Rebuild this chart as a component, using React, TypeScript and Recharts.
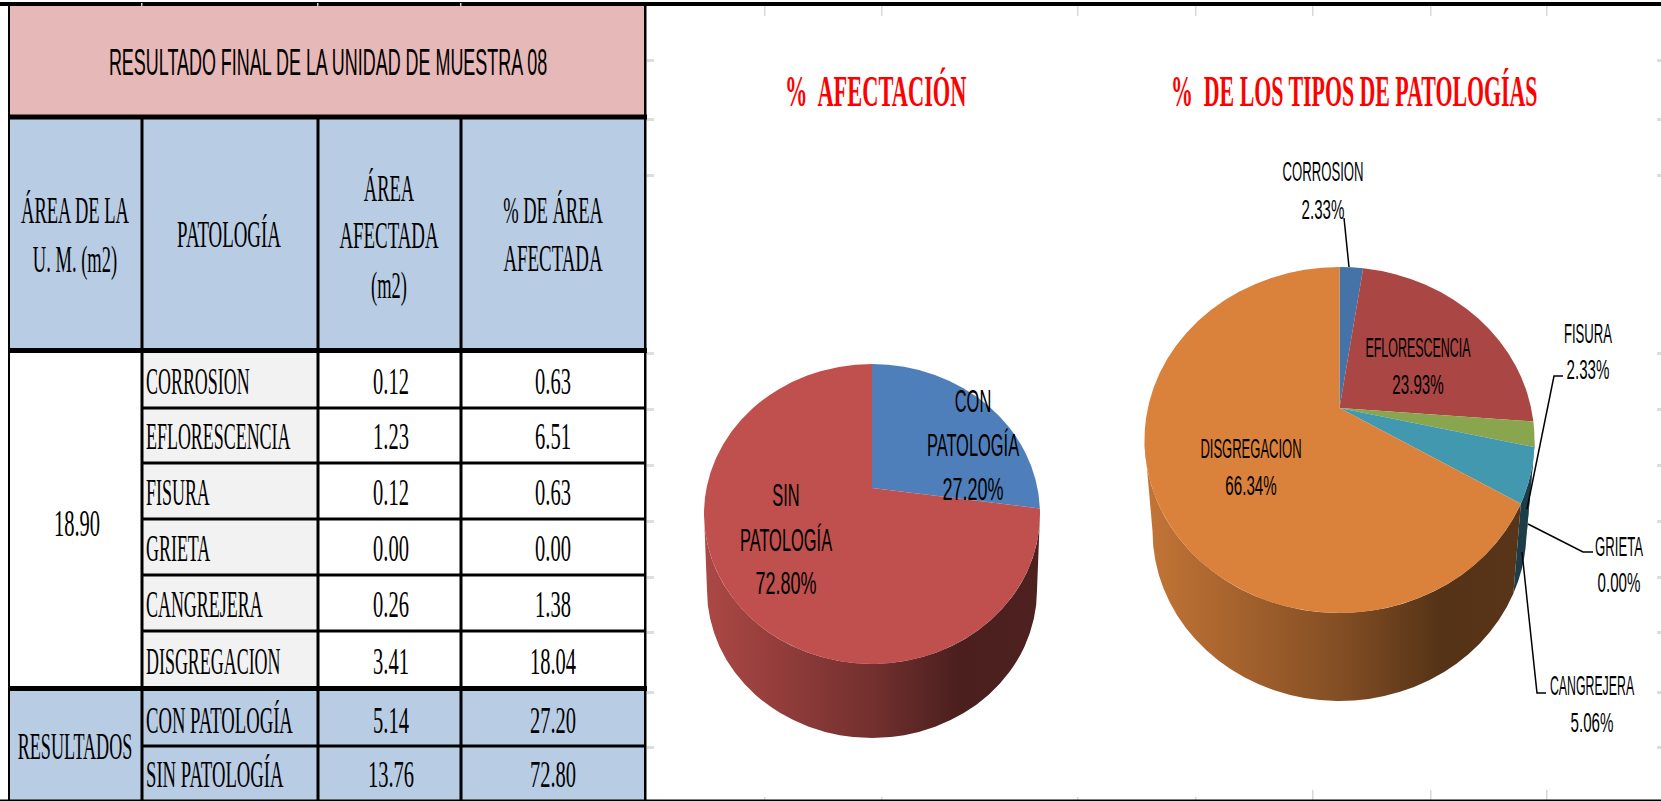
import { PieChart, Pie } from "recharts";

// values (m2)
const tipoNames = ["CORROSION", "EFLORESCENCIA", "FISURA", "GRIETA", "CANGREJERA", "DISGREGACION"];
const tipoAreas = [0.12, 1.23, 0.12, 0.0, 0.26, 3.41];
const tipoPercents = ["0.63", "6.51", "0.63", "0.00", "1.38", "18.04"];
const tipoColors = ["#4572A7", "#AA4643", "#89A54E", "#71588F", "#4198AF", "#DA823C"];

const resumenNames = ["CON PATOLOGÍA", "SIN PATOLOGÍA"];
const resumenAreas = [5.14, 13.76];
const resumenPercents = ["27.20", "72.80"];
const resumenColors = ["#4F7FBA", "#BF504D"];

const tipoData = tipoNames.map((name, i) => ({ name, value: tipoAreas[i], fill: tipoColors[i] }));
const resumenData = resumenNames.map((name, i) => ({ name, value: resumenAreas[i], fill: resumenColors[i] }));

const SERIF = "'Liberation Serif', 'Times New Roman', serif";
const SANS = "'Liberation Sans', Arial, sans-serif";

// table layout
const colEdges = [9, 142, 318, 461, 645];
const rowEdges = [353, 408, 463, 519, 575, 631, 688, 746, 800];
const sideTicks = [59, 118, 174, 352, 408, 464, 520, 576, 631, 691, 746];
const topTicks = [764, 881, 1077, 1195, 1312, 1430, 1546];

// tilted pie geometry, vertex of the slices is not the middle of the ellipse
const resumenTilt = { id: "res", cyTop: 514, ry: 150, rxBottom: 165, ryBottom: 148, cyBottom: 590 };
const tipoTilt = { id: "tip", cyTop: 440, ry: 173, rxBottom: 187, ryBottom: 170, cyBottom: 531 };

// where the data labels sit
const resumenLabels = [
  { x: 973, ys: [412, 456, 500], sx: 0.53, pctSx: 0.58, size: 31 },
  { x: 786, ys: [506, 551, 594], sx: 0.53, pctSx: 0.58, size: 31 },
];
const tipoLabels = [
  { x: 1323, ys: [181, 219], sx: 0.47, pctSx: 0.54, size: 28, line: "1344,218 1349,267" },
  { x: 1418, ys: [357, 394], sx: 0.445, pctSx: 0.54, size: 28 },
  { x: 1588, ys: [343, 379], sx: 0.47, pctSx: 0.54, size: 28, line: "1563,376 1554,376 1527,509" },
  { x: 1619, ys: [556, 592], sx: 0.47, pctSx: 0.54, size: 28, line: "1593,552 1583,552 1528,524" },
  { x: 1592, ys: [695, 732], sx: 0.44, pctSx: 0.54, size: 28, line: "1546,693 1537,693 1522,552" },
  { x: 1251, ys: [458, 495], sx: 0.465, pctSx: 0.54, size: 28 },
];

const shade = (hex: string, f: number) => {
  const n = parseInt(hex.slice(1), 16);
  const c = [(n >> 16) & 255, (n >> 8) & 255, n & 255].map((v) => Math.round(v * f));
  return `rgb(${c[0]},${c[1]},${c[2]})`;
};

// recharts angle (deg) -> angle on the ellipse, clockwise from the top (rad)
const toEllipseAngle = (deg: number, k: number) => {
  const clockwise = Math.min(360, Math.max(0, 90 - deg));
  const half = (clockwise * Math.PI) / 360;
  return 2 * Math.atan2(k * Math.sin(half), Math.cos(half));
};

const kFor = (cy: number, tilt: any) => {
  const e = (tilt.cyTop - cy) / tilt.ry;
  return Math.sqrt((1 - e) / (1 + e));
};

const topShape = (tilt: any) => (props: any) => {
  const { cx, cy, outerRadius: rx, startAngle, endAngle, fill } = props;
  const k = kFor(cy, tilt);
  const a = toEllipseAngle(startAngle, k);
  const b = toEllipseAngle(endAngle, k);
  const px = (t: number) => cx + rx * Math.sin(t);
  const py = (t: number) => tilt.cyTop - tilt.ry * Math.cos(t);
  const large = b - a > Math.PI ? 1 : 0;
  return (
    <path
      d={`M${cx},${cy} L${px(a)},${py(a)} A${rx},${tilt.ry} 0 ${large} 1 ${px(b)},${py(b)} Z`}
      fill={fill}
    />
  );
};

const wallShape = (tilt: any) => (props: any) => {
  const { cx, cy, outerRadius: rx, startAngle, endAngle, fill, index } = props;
  const k = kFor(cy, tilt);
  const a = Math.max(toEllipseAngle(startAngle, k), Math.PI / 2);
  const b = Math.min(toEllipseAngle(endAngle, k), (3 * Math.PI) / 2);
  if (b <= a) return <g />;
  const id = `wall-${tilt.id}-${index}`;
  const large = b - a > Math.PI ? 1 : 0;
  const tx = (t: number) => cx + rx * Math.sin(t);
  const ty = (t: number) => tilt.cyTop - tilt.ry * Math.cos(t);
  const bx = (t: number) => cx + tilt.rxBottom * Math.sin(t);
  const by = (t: number) => tilt.cyBottom - tilt.ryBottom * Math.cos(t);
  return (
    <g>
      <defs>
        <linearGradient id={id} gradientUnits="userSpaceOnUse" x1={cx - rx} x2={cx + rx} y1={0} y2={0}>
          <stop offset="0" stopColor={shade(fill, 0.9)} />
          <stop offset="0.5" stopColor={shade(fill, 0.6)} />
          <stop offset="0.76" stopColor={shade(fill, 0.39)} />
          <stop offset="1" stopColor={shade(fill, 0.41)} />
        </linearGradient>
      </defs>
      <path
        d={`M${tx(a)},${ty(a)} A${rx},${tilt.ry} 0 ${large} 1 ${tx(b)},${ty(b)} L${bx(b)},${by(b)} A${tilt.rxBottom},${tilt.ryBottom} 0 ${large} 0 ${bx(a)},${by(a)} Z`}
        fill={`url(#${id})`}
      />
    </g>
  );
};

const Squeezed = ({ x, y, size, sx, anchor = "middle", font = SERIF, fill = "#000", weight, children }: any) => (
  <text
    transform={`translate(${x} ${y}) scale(${sx} 1)`}
    textAnchor={anchor}
    fontFamily={font}
    fontSize={size}
    fontWeight={weight}
    fill={fill}
    style={{ whiteSpace: "pre" }}
  >
    {children}
  </text>
);

const pieLabel = (layout: any[], splitName: boolean) => (props: any) => {
  const { index, name, percent } = props;
  const spot = layout[index];
  const nameLines = splitName ? name.split(" ") : [name];
  const pct = `${(percent * 100).toFixed(2)}%`;
  return (
    <g>
      {spot.line && <polyline points={spot.line} fill="none" stroke="#000" strokeWidth={1.5} />}
      {nameLines.map((t: string, i: number) => (
        <Squeezed key={t} x={spot.x} y={spot.ys[i]} size={spot.size} sx={spot.sx} font={SANS}>
          {t}
        </Squeezed>
      ))}
      <Squeezed x={spot.x} y={spot.ys[nameLines.length]} size={spot.size} sx={spot.pctSx} font={SANS}>
        {pct}
      </Squeezed>
    </g>
  );
};

const Table = () => {
  const [c0, c1, c2, c3, c4] = colEdges;
  const size = 37;
  const sx = 0.5;
  return (
    <svg width={1661} height={801} style={{ position: "absolute", left: 0, top: 0 }}>
      <rect x={c0} y={4} width={c4 - c0} height={112} fill="#E6B8B7" />
      <rect x={c0} y={116} width={c4 - c0} height={rowEdges[0] - 116} fill="#B8CCE4" />
      <rect x={c1} y={rowEdges[0]} width={c2 - c1} height={rowEdges[6] - rowEdges[0]} fill="#F2F2F2" />
      <rect x={c0} y={rowEdges[6]} width={c4 - c0} height={rowEdges[8] - rowEdges[6]} fill="#B8CCE4" />

      {sideTicks.map((y) => (
        <g key={y}>
          <rect x={647} y={y} width={7} height={3} fill="#DDD" />
          <rect x={1657} y={y} width={4} height={3} fill="#DDD" />
        </g>
      ))}
      {topTicks.map((x) => (
        <rect key={x} x={x} y={5} width={1.5} height={11} fill="#D9D9D9" />
      ))}
      {topTicks.map((x, i) => (
        <rect key={x} x={x} y={i > 3 ? 790 : 797} width={1.5} height={i > 3 ? 10 : 3} fill="#D9D9D9" />
      ))}

      {/* borders */}
      <rect x={0} y={2} width={1661} height={4} fill="#000" />
      <rect x={0} y={799.5} width={1661} height={1.5} fill="#000" />
      {[c1, c2, c3].map((x) => (
        <rect key={x} x={x - 1} y={3} width={1.5} height={3} fill="#CCC" />
      ))}
      <rect x={c0 - 1} y={4} width={2} height={797} fill="#000" />
      <rect x={c4 - 1} y={4} width={2.5} height={797} fill="#000" />
      {[c1, c2, c3].map((x) => (
        <rect key={x} x={x - 1.5} y={116} width={3} height={685} fill="#000" />
      ))}
      <rect x={c0} y={114.5} width={c4 - c0 + 2} height={5} fill="#000" />
      <rect x={c0} y={348} width={c4 - c0 + 2} height={5} fill="#000" />
      <rect x={c0} y={686} width={c4 - c0 + 2} height={5} fill="#000" />
      {rowEdges.slice(1, 6).map((y) => (
        <rect key={y} x={c1} y={y - 1.5} width={c4 - c1} height={3} fill="#000" />
      ))}
      <rect x={c1} y={744.5} width={c4 - c1} height={3} fill="#000" />

      <Squeezed x={328} y={75} size={37} sx={0.485} font={SANS}>
        RESULTADO FINAL DE LA UNIDAD DE MUESTRA 08
      </Squeezed>

      <Squeezed x={75} y={223} size={size} sx={sx}>ÁREA DE LA</Squeezed>
      <Squeezed x={75} y={272} size={size} sx={sx}>U. M. (m2)</Squeezed>
      <Squeezed x={229} y={247} size={size} sx={0.51}>PATOLOGÍA</Squeezed>
      <Squeezed x={389} y={201} size={size} sx={sx}>ÁREA</Squeezed>
      <Squeezed x={389} y={248} size={size} sx={0.51}>AFECTADA</Squeezed>
      <Squeezed x={389} y={298} size={size} sx={sx}>(m2)</Squeezed>
      <Squeezed x={553} y={223} size={size} sx={sx}>% DE ÁREA</Squeezed>
      <Squeezed x={553} y={271} size={size} sx={0.51}>AFECTADA</Squeezed>

      <Squeezed x={77} y={536} size={38} sx={0.54}>18.90</Squeezed>
      <Squeezed x={75} y={759} size={size} sx={0.49}>RESULTADOS</Squeezed>

      {tipoNames.map((name, i) => {
        const y = rowEdges[i + 1] - 14;
        return (
          <g key={name}>
            <Squeezed x={146} y={y} size={size} sx={0.485} anchor="start">{name}</Squeezed>
            <Squeezed x={391} y={y} size={38} sx={0.54}>{tipoAreas[i].toFixed(2)}</Squeezed>
            <Squeezed x={553} y={y} size={38} sx={0.54}>{tipoPercents[i]}</Squeezed>
          </g>
        );
      })}
      {resumenNames.map((name, i) => {
        const y = rowEdges[i + 7] - 13;
        return (
          <g key={name}>
            <Squeezed x={146} y={y} size={size} sx={0.505} anchor="start">{name}</Squeezed>
            <Squeezed x={391} y={y} size={38} sx={0.54}>{resumenAreas[i].toFixed(2)}</Squeezed>
            <Squeezed x={553} y={y} size={38} sx={0.54}>{resumenPercents[i]}</Squeezed>
          </g>
        );
      })}

      <Squeezed x={785} y={106} size={44} sx={0.51} anchor="start" weight="bold" fill="#FF0000">
        {"%  AFECTACIÓN"}
      </Squeezed>
      <Squeezed x={1171} y={106} size={44} sx={0.497} anchor="start" weight="bold" fill="#FF0000">
        {"%  DE LOS TIPOS DE PATOLOGÍAS"}
      </Squeezed>
    </svg>
  );
};

export default function App() {
  return (
    <div style={{ position: "absolute", left: 0, top: 0, width: 1661, height: 801, overflow: "hidden", background: "#fff" }}>
      <Table />
      <div style={{ position: "absolute", left: 0, top: 0 }}>
        <PieChart width={1661} height={801} margin={{ top: 0, right: 0, bottom: 0, left: 0 }}>
          <Pie
            data={resumenData}
            dataKey="value"
            nameKey="name"
            cx={872}
            cy={488}
            outerRadius={168}
            startAngle={90}
            endAngle={-270}
            stroke="none"
            shape={wallShape(resumenTilt)}
            isAnimationActive={false}
          />
          <Pie
            data={resumenData}
            dataKey="value"
            nameKey="name"
            cx={872}
            cy={488}
            outerRadius={168}
            startAngle={90}
            endAngle={-270}
            stroke="none"
            shape={topShape(resumenTilt)}
            label={pieLabel(resumenLabels, true)}
            labelLine={false}
            isAnimationActive={false}
          />
          <Pie
            data={tipoData}
            dataKey="value"
            nameKey="name"
            cx={1339.5}
            cy={408}
            outerRadius={195}
            startAngle={90}
            endAngle={-270}
            stroke="none"
            shape={wallShape(tipoTilt)}
            isAnimationActive={false}
          />
          <Pie
            data={tipoData}
            dataKey="value"
            nameKey="name"
            cx={1339.5}
            cy={408}
            outerRadius={195}
            startAngle={90}
            endAngle={-270}
            stroke="none"
            shape={topShape(tipoTilt)}
            label={pieLabel(tipoLabels, false)}
            labelLine={false}
            isAnimationActive={false}
          />
        </PieChart>
      </div>
    </div>
  );
}
